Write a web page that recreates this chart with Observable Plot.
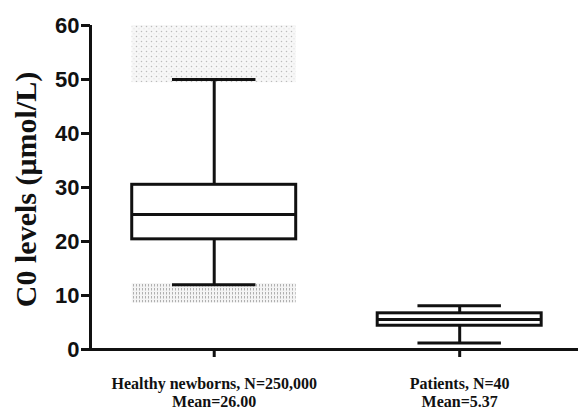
<!DOCTYPE html>
<html>
<head>
<meta charset="utf-8">
<script src="https://cdn.jsdelivr.net/npm/d3@7"></script>
<script src="https://cdn.jsdelivr.net/npm/@observablehq/plot@0.6"></script>
<style>
  html, body { margin: 0; padding: 0; background: #fff; }
  #chart svg { display: block; }
</style>
</head>
<body>
<div id="chart"></div>
<script>
// ---- data ----
const categories = ["Healthy newborns, N=250,000", "Patients, N=40"];
const meanLabels = ["Mean=26.00", "Mean=5.37"];
const whiskerLow = [12.0, 1.2];
const q1 = [20.4, 4.4];
const median = [25.0, 5.55];
const q3 = [30.5, 6.7];
const whiskerHigh = [50.0, 8.1];
// dense outlier clouds (healthy newborns only)
const outlierCategory = [0, 0];
const outlierLow = [49.4, 8.6];
const outlierHigh = [60.0, 12.2];
const yTicks = [0, 10, 20, 30, 40, 50, 60];
const yTitle = "C0 levels (\u03bcmol/L)";

const boxes = categories.map((c, i) => ({
  i, c, lo: whiskerLow[i], q1: q1[i], med: median[i], q3: q3[i], hi: whiskerHigh[i]
}));
const clouds = outlierCategory.map((i, k) => ({ i, k, lo: outlierLow[k], hi: outlierHigh[k] }));

const HW = 0.334;   // half box width (x units)
const CW = 0.17;    // half cap width
const XMIN = -0.504, XMAX = 1.484;
const ink = "#111";
const SW = 3;

const plot = Plot.plot({
  width: 578,
  height: 412,
  marginLeft: 90,
  marginRight: 0,
  marginTop: 25,
  marginBottom: 63,
  style: { fontFamily: "'Liberation Sans', Arial, sans-serif", background: "#fff", color: ink },
  x: { type: "linear", domain: [XMIN, XMAX] },
  y: { domain: [0, 60] },
  marks: [
    Plot.rect(clouds, {
      x1: d => d.i - HW, x2: d => d.i + HW, y1: "lo", y2: "hi",
      fill: d => d.k === 0 ? "url(#stipA)" : "url(#stipB)"
    }),
    // whiskers
    Plot.ruleX(boxes, { x: "i", y1: "q3", y2: "hi", stroke: ink, strokeWidth: SW }),
    Plot.ruleX(boxes, { x: "i", y1: "lo", y2: "q1", stroke: ink, strokeWidth: SW }),
    // caps
    Plot.ruleY(boxes, { y: "hi", x1: d => d.i - CW, x2: d => d.i + CW, stroke: ink, strokeWidth: SW }),
    Plot.ruleY(boxes, { y: "lo", x1: d => d.i - CW, x2: d => d.i + CW, stroke: ink, strokeWidth: SW }),
    // boxes
    Plot.rect(boxes, {
      x1: d => d.i - HW, x2: d => d.i + HW, y1: "q1", y2: "q3",
      fill: "white", stroke: ink, strokeWidth: SW
    }),
    Plot.ruleY(boxes, { y: "med", x1: d => d.i - HW, x2: d => d.i + HW, stroke: ink, strokeWidth: SW }),
    // axes
    Plot.axisY({
      ticks: yTicks, tickSize: 9, tickPadding: 2, strokeWidth: SW,
      fontSize: 22, fontWeight: "bold", label: null, stroke: ink, fill: ink
    }),
    Plot.axisX({
      ticks: [0, 1], tickSize: 8, tickPadding: 19, strokeWidth: SW,
      tickFormat: i => categories[i] + "\n" + meanLabels[i],
      fontSize: 16, fontWeight: "bold", lineHeight: 1.1,
      fontFamily: "'Liberation Serif', 'Times New Roman', serif",
      label: null, stroke: ink, fill: ink
    }),
    Plot.ruleY([0], { stroke: ink, strokeWidth: SW }),
    Plot.ruleX([XMIN], { stroke: ink, strokeWidth: SW, y1: 0, y2: 60 }),
    Plot.text([yTitle], {
      frameAnchor: "left", textAnchor: "middle", dx: -64, dy: 2, rotate: -90, text: d => d,
      fontSize: 30, fontWeight: "bold",
      fontFamily: "'Liberation Serif', 'Times New Roman', serif", fill: ink
    })
  ]
});

// stipple patterns for the dense outlier clouds
const ns = "http://www.w3.org/2000/svg";
const defs = document.createElementNS(ns, "defs");
defs.innerHTML = `
  <pattern id="stipA" patternUnits="userSpaceOnUse" width="5" height="5">
    <rect width="5" height="5" fill="#f7f7f7"/>
    <circle cx="1.5" cy="1.5" r="0.75" fill="#bcbcbc"/>
    <circle cx="4" cy="3.8" r="0.5" fill="#d6d6d6"/>
  </pattern>
  <pattern id="stipB" patternUnits="userSpaceOnUse" width="3" height="4">
    <rect width="3" height="4" fill="#f4f4f4"/>
    <rect x="1" y="0" width="1" height="2.5" fill="#b0b0b0"/>
  </pattern>`;
plot.insertBefore(defs, plot.firstChild);
document.getElementById("chart").appendChild(plot);
</script>
</body>
</html>
